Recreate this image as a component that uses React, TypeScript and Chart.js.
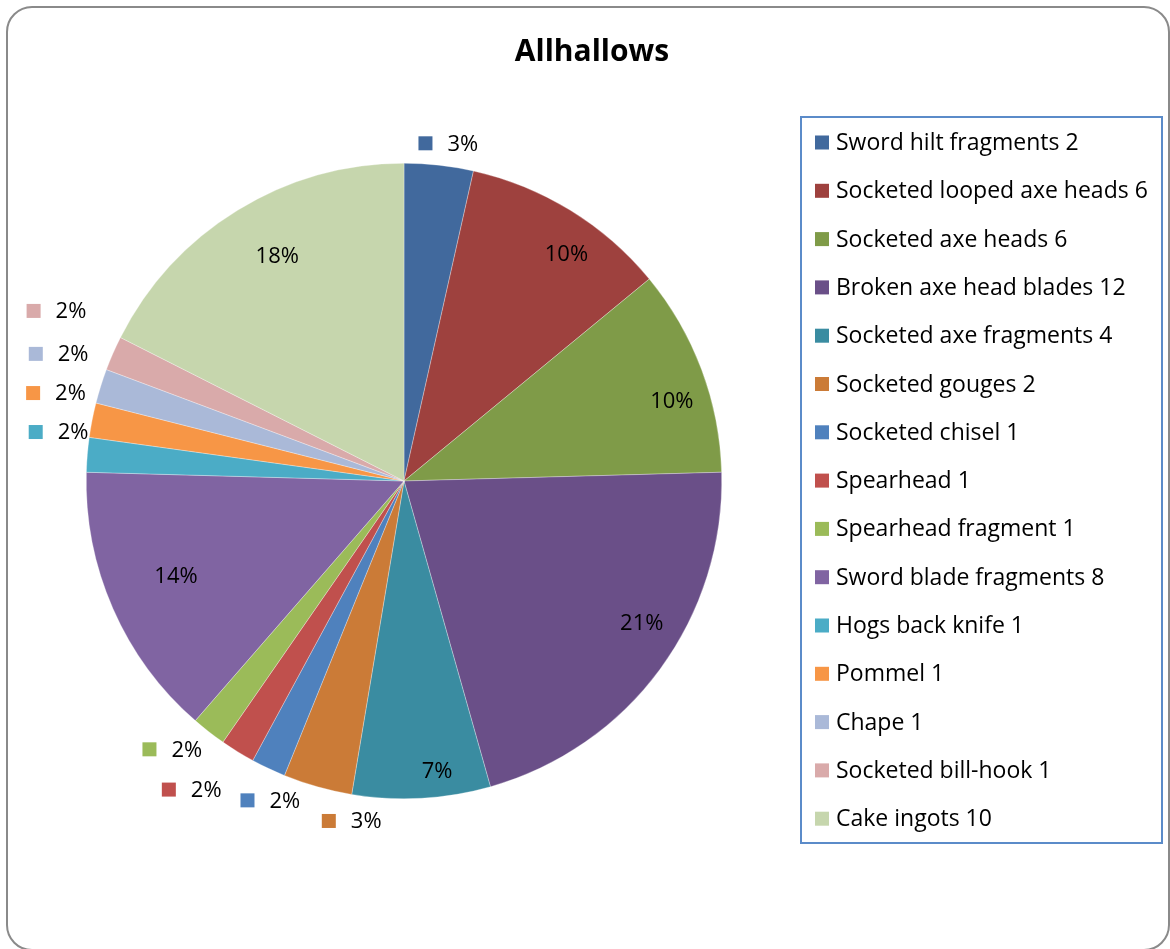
import React, { useEffect, useRef } from "react";
import { Chart, registerables } from "chart.js";

Chart.register(...registerables);

const TITLE = "Allhallows";
const categories = [
  "Sword hilt fragments",
  "Socketed looped axe heads",
  "Socketed axe heads",
  "Broken axe head blades",
  "Socketed axe fragments",
  "Socketed gouges",
  "Socketed chisel",
  "Spearhead",
  "Spearhead fragment",
  "Sword blade fragments",
  "Hogs back knife",
  "Pommel",
  "Chape",
  "Socketed bill-hook",
  "Cake ingots",
];
const counts = [2, 6, 6, 12, 4, 2, 1, 1, 1, 8, 1, 1, 1, 1, 10];
const percentLabels = ["3%", "10%", "10%", "21%", "7%", "3%", "2%", "2%", "2%", "14%", "2%", "2%", "2%", "2%", "18%"];
const colors = [
  "#41699D",
  "#9E413E",
  "#7F9B48",
  "#6A4F88",
  "#3A8CA1",
  "#CB7B37",
  "#4F81BD",
  "#C0504D",
  "#9BBB59",
  "#8064A2",
  "#4BACC6",
  "#F79646",
  "#AAB9D8",
  "#D9AAAA",
  "#C6D6AD",
];

// label layout (not data)
const labelInside = [false, true, true, true, true, false, false, false, false, true, false, false, false, false, true];
const insideRadius = [0, 0.88, 0.88, 0.87, 0.915, 0, 0, 0, 0, 0.78, 0, 0, 0, 0, 0.81];
const insideNudge: [number, number][] = [
  [0, 0], [16, 11], [6, 18], [15, -22], [17, -1], [0, 0], [0, 0], [0, 0], [0, 0],
  [-1, -5], [0, 0], [0, 0], [0, 0], [0, 0], [8, -6],
];
const outsideNudge: [number, number][] = [
  [5, -1], [0, 0], [0, 0], [0, 0], [0, 0], [45, 14], [19, 13], [-25, 20], [-12, 1],
  [0, 0], [11, -21], [3, -23], [-4, -26], [-20, -34], [0, 0],
];

const FONT = "'Open Sans', sans-serif";
const W = 1170;
const H = 949;

function roundRect(ctx: CanvasRenderingContext2D, x: number, y: number, w: number, h: number, r: number) {
  ctx.beginPath();
  ctx.moveTo(x + r, y);
  ctx.lineTo(x + w - r, y);
  ctx.arcTo(x + w, y, x + w, y + r, r);
  ctx.lineTo(x + w, y + h - r);
  ctx.arcTo(x + w, y + h, x + w - r, y + h, r);
  ctx.lineTo(x + r, y + h);
  ctx.arcTo(x, y + h, x, y + h - r, r);
  ctx.lineTo(x, y + r);
  ctx.arcTo(x, y, x + r, y, r);
  ctx.closePath();
}

const decorPlugin = {
  id: "decor",
  beforeDraw(chart: any) {
    const ctx = chart.ctx as CanvasRenderingContext2D;
    ctx.save();
    ctx.fillStyle = "#ffffff";
    ctx.fillRect(0, 0, W, H);
    roundRect(ctx, 7, 7, 1162, 943, 25);
    ctx.fillStyle = "#ffffff";
    ctx.fill();
    ctx.lineWidth = 2;
    ctx.strokeStyle = "#8a8a8a";
    ctx.stroke();
    ctx.restore();
  },
  afterDraw(chart: any) {
    const ctx = chart.ctx as CanvasRenderingContext2D;
    ctx.save();
    // title
    ctx.fillStyle = "#000";
    ctx.font = `bold 30px ${FONT}`;
    ctx.textAlign = "center";
    ctx.textBaseline = "middle";
    ctx.fillText(TITLE, 592, 52);

    // legend
    ctx.lineWidth = 2;
    ctx.strokeStyle = "#5B8BC9";
    ctx.strokeRect(801, 117, 361, 726);
    ctx.font = `23px ${FONT}`;
    ctx.textAlign = "left";
    categories.forEach((c, i) => {
      const y = 142.5 + i * 48.3;
      ctx.fillStyle = colors[i];
      ctx.fillRect(815, y - 7, 14, 14);
      ctx.fillStyle = "#000";
      ctx.fillText(`${c} ${counts[i]}`, 836, y + 1);
    });

    // data labels
    const meta = chart.getDatasetMeta(0);
    meta.data.forEach((arc: any, i: number) => {
      const { x, y, startAngle, endAngle, outerRadius } = arc.getProps(
        ["x", "y", "startAngle", "endAngle", "outerRadius"],
        true
      );
      const mid = (startAngle + endAngle) / 2;
      const ux = Math.cos(mid);
      const uy = Math.sin(mid);
      const txt = percentLabels[i];
      ctx.font = `22px ${FONT}`;
      ctx.fillStyle = "#000";
      if (labelInside[i]) {
        const r = outerRadius * insideRadius[i];
        ctx.textAlign = "center";
        ctx.fillText(txt, x + r * ux + insideNudge[i][0], y + r * uy + insideNudge[i][1] + 1);
      } else {
        const tw = ctx.measureText(txt).width;
        const gw = 14 + 15 + tw;
        const gh = 22;
        const ar = outerRadius + 10;
        const cx = x + ar * ux + (gw / 2) * ux + outsideNudge[i][0];
        const cy = y + ar * uy + (gh / 2) * uy + outsideNudge[i][1];
        const left = cx - gw / 2;
        ctx.fillStyle = colors[i];
        ctx.fillRect(left, cy - 7, 14, 14);
        ctx.fillStyle = "#000";
        ctx.textAlign = "left";
        ctx.fillText(txt, left + 29, cy + 1);
      }
    });
    ctx.restore();
  },
};

export default function App() {
  const ref = useRef<HTMLCanvasElement | null>(null);
  useEffect(() => {
    if (!ref.current) return;
    const chart = new Chart(ref.current, {
      type: "pie",
      data: {
        labels: categories,
        datasets: [
          {
            data: counts,
            backgroundColor: colors,
            borderColor: "rgba(255,255,255,0.6)",
            borderWidth: 0.5,
          },
        ],
      },
      options: {
        responsive: false,
        animation: false,
        layout: { padding: { left: 86, right: 448, top: 163, bottom: 150 } },
        plugins: {
          legend: { display: false },
          tooltip: { enabled: false },
          title: { display: false },
        },
      },
      plugins: [decorPlugin],
    });
    return () => chart.destroy();
  }, []);
  return (
    <div style={{ position: "absolute", left: 0, top: 0, width: W, height: H, overflow: "hidden" }}>
      <canvas ref={ref} width={W} height={H} style={{ width: W, height: H, display: "block" }} />
    </div>
  );
}
